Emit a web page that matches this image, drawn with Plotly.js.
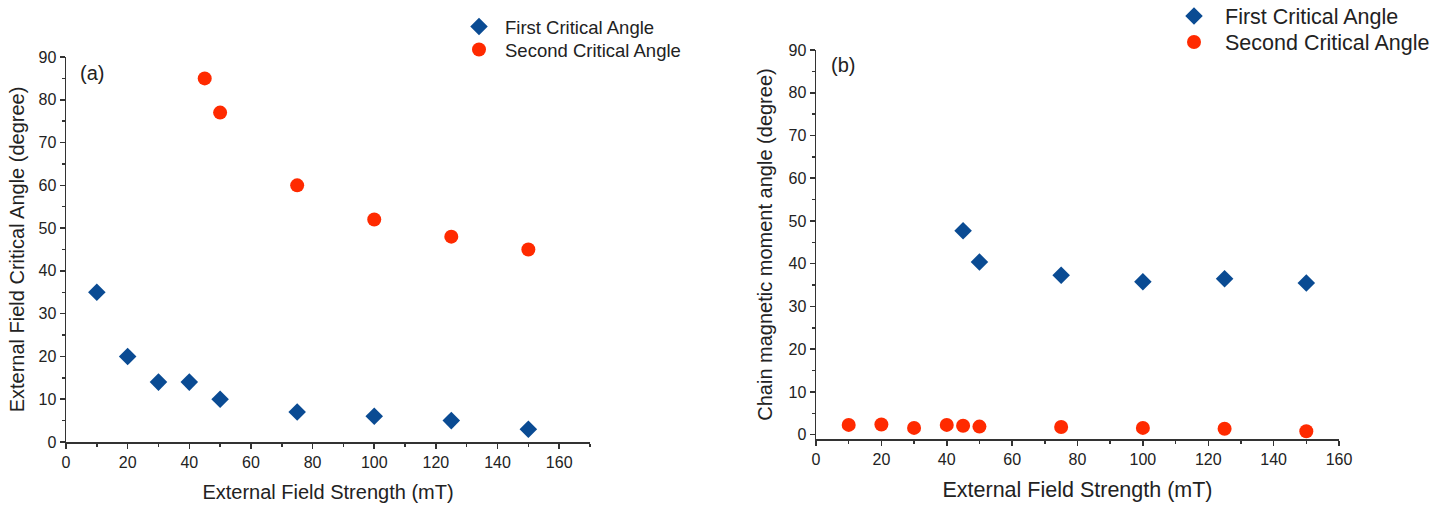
<!DOCTYPE html>
<html>
<head>
<meta charset="utf-8">
<script src="https://cdn.plot.ly/plotly-3.0.1.min.js"></script>
<style>html,body{margin:0;padding:0;background:#fff;}#chart{width:1450px;height:508px;}</style>
</head>
<body>
<div id="chart"></div>
<script>
// ---- Data (a) ----
const a_first_x = [10, 20, 30, 40, 50, 75, 100, 125, 150];
const a_first_y = [35, 20, 14, 14, 10, 7, 6, 5, 3];
const a_second_x = [45, 50, 75, 100, 125, 150];
const a_second_y = [85, 77, 60, 52, 48, 45];
// ---- Data (b) ----
const b_first_x = [45, 50, 75, 100, 125, 150];
const b_first_y = [47.7, 40.4, 37.3, 35.8, 36.5, 35.5];
const b_second_x = [10, 20, 30, 40, 45, 50, 75, 100, 125, 150];
const b_second_y = [2.3, 2.4, 1.6, 2.3, 2.1, 1.9, 1.8, 1.6, 1.4, 0.8];
const seriesNames = ["First Critical Angle", "Second Critical Angle"];

const BLUE = "#0a4b93";
const RED = "#ff2a00";
const FONT = "Arial, 'Liberation Sans', sans-serif";

const traces = [
  {x: a_first_x, y: a_first_y, name: seriesNames[0], type: "scatter", mode: "markers",
   marker: {symbol: "diamond", size: 13.5, color: BLUE}, xaxis: "x", yaxis: "y", legend: "legend"},
  {x: a_second_x, y: a_second_y, name: seriesNames[1], type: "scatter", mode: "markers",
   marker: {symbol: "circle", size: 14, color: RED}, xaxis: "x", yaxis: "y", legend: "legend2"},
  {x: b_first_x, y: b_first_y, name: seriesNames[0], type: "scatter", mode: "markers",
   marker: {symbol: "diamond", size: 13.5, color: BLUE}, xaxis: "x2", yaxis: "y2", legend: "legend3"},
  {x: b_second_x, y: b_second_y, name: seriesNames[1], type: "scatter", mode: "markers",
   marker: {symbol: "circle", size: 14, color: RED}, xaxis: "x2", yaxis: "y2", legend: "legend4"}
];

function axisBase(extra) {
  return Object.assign({
    showline: true, linecolor: "#333", linewidth: 1.5, mirror: false,
    showgrid: false, zeroline: false,
    ticks: "outside", ticklen: 5, tickwidth: 1.5, tickcolor: "#333",
    tickfont: {family: FONT, size: 16, color: "#222"},
    automargin: false
  }, extra);
}
function legendAt(px, py, size, iw) {
  return {x: px/1450, y: 1 - py/508, xanchor: "left", yanchor: "middle",
    font: {family: FONT, size: size, color: "#222"}, bgcolor: "rgba(0,0,0,0)",
    itemwidth: iw};
}

const layout = {
  width: 1450, height: 508,
  margin: {l: 0, r: 0, t: 0, b: 0, autoexpand: false},
  paper_bgcolor: "#fff", plot_bgcolor: "#fff",
  font: {family: FONT, color: "#222"},
  xaxis: axisBase({domain: [66/1450, 590/1450], range: [0, 170], dtick: 20, tick0: 0,
    minor: {ticks: "outside", ticklen: 3, tickwidth: 1.5, tickcolor: "#333", dtick: 10},
    anchor: "y",
    title: {text: "External Field Strength (mT)", font: {family: FONT, size: 20, color: "#222"}, standoff: 15}}),
  yaxis: axisBase({domain: [1 - 442/508, 1 - 57/508], range: [0, 90], dtick: 10, tick0: 0,
    minor: {ticks: "outside", ticklen: 3, tickwidth: 1.5, tickcolor: "#333", dtick: 5},
    anchor: "x",
    title: {text: "External Field Critical Angle (degree)", font: {family: FONT, size: 20, color: "#222"}, standoff: 8}}),
  xaxis2: axisBase({domain: [816/1450, 1339/1450], range: [0, 160], dtick: 20, tick0: 0,
    minor: {ticks: "outside", ticklen: 3, tickwidth: 1.5, tickcolor: "#333", dtick: 10},
    anchor: "y2",
    title: {text: "External Field Strength (mT)", font: {family: FONT, size: 21.5, color: "#222"}, standoff: 15}}),
  yaxis2: axisBase({domain: [1 - 439/508, 1 - 50/508], range: [-1, 90], dtick: 10, tick0: 0,
    minor: {ticks: "outside", ticklen: 3, tickwidth: 1.5, tickcolor: "#333", dtick: 5},
    anchor: "x2",
    title: {text: "Chain magnetic moment angle (degree)", font: {family: FONT, size: 20, color: "#222"}, standoff: 10}}),
  legend: legendAt(453, 27, 18.5, 42),
  legend2: legendAt(453, 50, 18.5, 42),
  legend3: legendAt(1163, 16, 21.5, 52),
  legend4: legendAt(1163, 42, 21.5, 52),
  showlegend: true,
  annotations: [
    {text: "(a)", xref: "paper", yref: "paper", x: 92/1450, y: 1 - 73/508,
     xanchor: "center", yanchor: "middle", showarrow: false,
     font: {family: FONT, size: 20, color: "#222"}},
    {text: "(b)", xref: "paper", yref: "paper", x: 843/1450, y: 1 - 65/508,
     xanchor: "center", yanchor: "middle", showarrow: false,
     font: {family: FONT, size: 20, color: "#222"}}
  ]
};

Plotly.newPlot("chart", traces, layout, {staticPlot: true, displayModeBar: false});
</script>
</body>
</html>
